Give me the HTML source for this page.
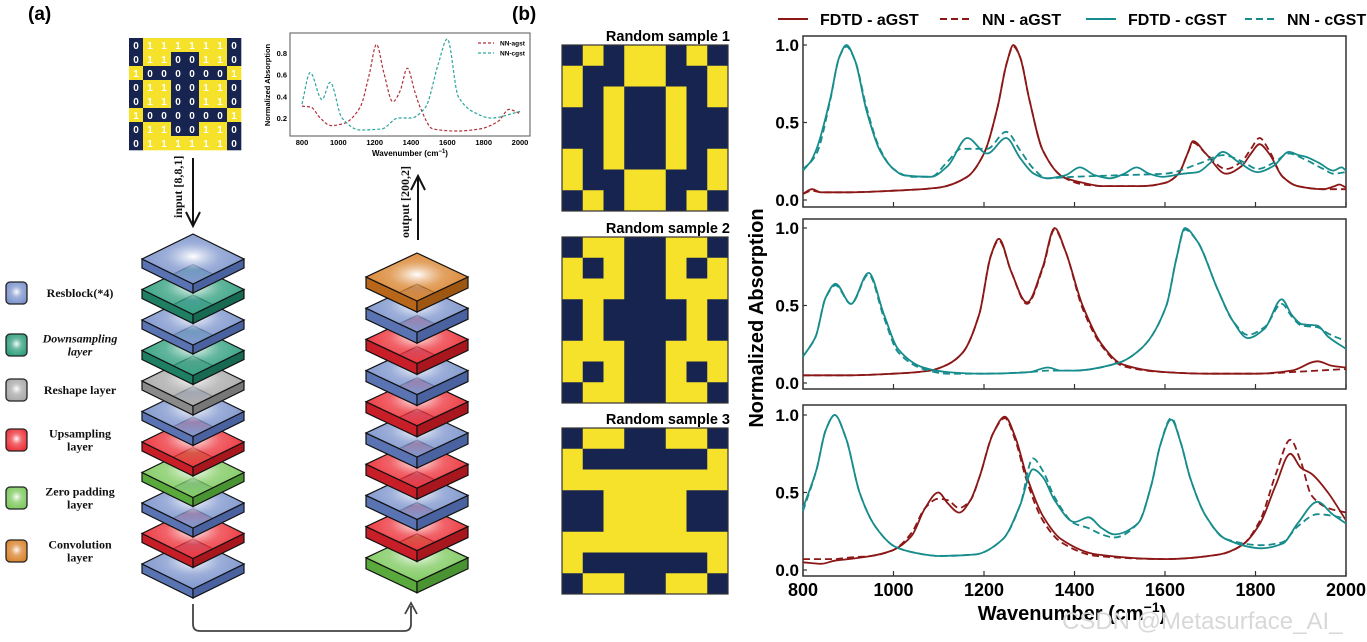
<!DOCTYPE html>
<html><head><meta charset="utf-8">
<style>
html,body{margin:0;padding:0;background:#fff;}
svg{display:block;font-family:"Liberation Sans",Arial,sans-serif;}
.serif{font-family:"Liberation Serif","Times New Roman",serif;font-weight:bold;font-size:12px;fill:#111;}
</style></head>
<body>
<svg id="fig" width="1367" height="642" viewBox="0 0 1367 642" xmlns="http://www.w3.org/2000/svg">
<defs id="defs"></defs>
<text x="28" y="20" font-size="19" font-weight="bold">(a)</text>
<text x="512" y="20" font-size="19" font-weight="bold">(b)</text>
<g id="matrix"></g>
<g id="arrows">
  <line x1="193" y1="158" x2="193" y2="224" stroke="#111" stroke-width="2"/>
  <polyline points="186,212 193,226 200,212" fill="none" stroke="#111" stroke-width="2"/>
  <line x1="418" y1="240" x2="418" y2="178" stroke="#111" stroke-width="2"/>
  <polyline points="411,190 418,176 425,190" fill="none" stroke="#111" stroke-width="2"/>
  <path d="M193,604 L193,624 Q193,631 200,631 L404,631 Q411,631 411,624 L411,606" fill="none" stroke="#444" stroke-width="1.8"/>
  <polyline points="405,614 411,603 417,614" fill="none" stroke="#444" stroke-width="1.8"/>
</g>
<text transform="translate(182,218) rotate(-90)" class="serif" font-size="10">input [8,8,1]</text>
<text transform="translate(409,238) rotate(-90)" class="serif" font-size="10">output [200,2]</text>
<g id="legendA"></g>
<g id="stacks"></g>
<g id="inset"></g>
<g id="grids"></g>
<g id="main"></g>
<text x="1062" y="629" font-size="24" fill="#d8d8d8">CSDN @Metasurface_AI_</text>
</svg>
<script>
// ---------- DATA ----------
const inputMatrix = ["01111110","01100110","10000001","01100110","01100110","10000001","01100110","01111110"];
const sample1 = ["01011010","10011001","10100101","00100100","00100100","10100101","10011001","01011010"];
const sample2 = ["01100110","10100101","11100111","01000010","01000010","11100111","10100101","01100110"];
const sample3 = ["01100110","10000001","11111111","00111100","00111100","11111111","10000001","01100110"];
const leftStack = ["blue","teal","blue","teal","gray","blue","red","lgreen","blue","red","blue"];
const rightStack = ["orange","blue","red","blue","red","blue","red","blue","red","lgreen"];
const xTicks = [800,1000,1200,1400,1600,1800,2000];
const yTicks = [0.0,0.5,1.0];
// inset
const in_a_x = [800,850,900,960,1030,1120,1170,1210,1250,1300,1340,1380,1420,1450,1520,1650,1780,1880,1940,2000];
const in_a_y = [0.31,0.30,0.20,0.13,0.15,0.30,0.60,0.88,0.62,0.35,0.45,0.66,0.45,0.30,0.10,0.08,0.10,0.17,0.28,0.24];
const in_c_x = [800,845,910,955,1020,1120,1240,1330,1400,1480,1550,1600,1660,1750,1840,2000];
const in_c_y = [0.33,0.62,0.37,0.53,0.20,0.09,0.10,0.20,0.20,0.30,0.70,0.93,0.40,0.25,0.20,0.26];
// panel 1
const p1_cF_x = [800,815,830,860,880,896,915,940,970,1000,1022,1083,1120,1163,1207,1249,1280,1310,1339,1380,1412,1445,1479,1510,1537,1565,1594,1640,1673,1700,1728,1760,1805,1840,1874,1895,1910,1940,1972,1990,2000];
const p1_cF_y = [0.20,0.24,0.33,0.65,0.92,1.0,0.9,0.58,0.32,0.2,0.16,0.15,0.22,0.40,0.30,0.40,0.27,0.17,0.14,0.16,0.21,0.16,0.14,0.17,0.21,0.17,0.15,0.17,0.18,0.24,0.31,0.25,0.18,0.22,0.31,0.29,0.28,0.24,0.19,0.21,0.19];
const p1_cN_x = [800,830,860,880,896,915,940,970,1000,1040,1083,1120,1150,1207,1249,1280,1310,1339,1400,1500,1600,1680,1728,1770,1805,1840,1874,1910,1950,1972,2000];
const p1_cN_y = [0.19,0.3,0.64,0.92,0.99,0.9,0.6,0.33,0.2,0.15,0.15,0.25,0.33,0.33,0.44,0.32,0.2,0.14,0.15,0.16,0.17,0.24,0.29,0.25,0.2,0.24,0.3,0.26,0.2,0.17,0.18];
const p1_aF_x = [800,820,840,860,900,1000,1100,1163,1200,1230,1250,1265,1280,1300,1330,1374,1420,1462,1550,1600,1630,1650,1662,1690,1735,1770,1790,1809,1830,1860,1893,1950,1975,1985,2000];
const p1_aF_y = [0.04,0.07,0.05,0.05,0.05,0.06,0.08,0.15,0.3,0.6,0.88,1.0,0.92,0.65,0.32,0.15,0.11,0.09,0.09,0.11,0.17,0.3,0.38,0.3,0.17,0.22,0.3,0.36,0.3,0.15,0.09,0.07,0.09,0.1,0.08];
const p1_aN_y = [0.04,0.06,0.05,0.05,0.05,0.06,0.08,0.15,0.3,0.6,0.88,0.99,0.92,0.65,0.32,0.15,0.1,0.09,0.09,0.11,0.17,0.3,0.37,0.3,0.2,0.25,0.33,0.4,0.32,0.15,0.09,0.07,0.07,0.07,0.07];
// panel 2
const p2_cF_x = [800,828,850,872,906,945,978,1010,1066,1120,1198,1300,1341,1370,1400,1497,1550,1603,1625,1644,1670,1717,1750,1783,1820,1858,1880,1902,1937,1960,2000];
const p2_cF_y = [0.17,0.3,0.55,0.64,0.51,0.71,0.45,0.22,0.1,0.07,0.06,0.07,0.1,0.08,0.08,0.13,0.23,0.5,0.8,1.0,0.92,0.6,0.4,0.29,0.35,0.54,0.44,0.38,0.37,0.3,0.22];
const p2_cN_y = [0.17,0.3,0.55,0.63,0.51,0.70,0.43,0.2,0.09,0.06,0.06,0.07,0.08,0.08,0.08,0.13,0.23,0.5,0.8,0.99,0.92,0.6,0.4,0.31,0.36,0.51,0.43,0.37,0.36,0.32,0.27];
const p2_aF_x = [800,900,1000,1080,1120,1154,1190,1215,1233,1260,1295,1330,1356,1380,1418,1460,1506,1600,1700,1800,1880,1937,1970,2000];
const p2_aF_y = [0.05,0.05,0.06,0.08,0.12,0.2,0.45,0.82,0.93,0.72,0.52,0.75,1.0,0.85,0.5,0.25,0.12,0.07,0.06,0.06,0.08,0.14,0.11,0.1];
const p2_aN_y = [0.05,0.05,0.06,0.08,0.12,0.2,0.45,0.82,0.92,0.72,0.51,0.74,0.99,0.85,0.48,0.24,0.11,0.07,0.06,0.06,0.07,0.08,0.085,0.09];
// panel 3
const p3_cF_x = [800,830,850,870,895,925,960,1004,1050,1101,1180,1242,1280,1308,1330,1356,1400,1431,1460,1488,1540,1570,1589,1614,1635,1655,1690,1734,1814,1860,1893,1937,1970,2000];
const p3_cF_y = [0.4,0.65,0.9,1.0,0.85,0.5,0.28,0.15,0.11,0.09,0.1,0.2,0.42,0.65,0.6,0.45,0.31,0.34,0.27,0.23,0.3,0.55,0.8,0.97,0.82,0.6,0.35,0.2,0.14,0.17,0.3,0.44,0.36,0.3];
const p3_cN_y = [0.38,0.65,0.9,1.0,0.85,0.5,0.28,0.15,0.11,0.09,0.1,0.2,0.42,0.72,0.64,0.47,0.3,0.27,0.23,0.21,0.3,0.55,0.8,0.98,0.82,0.6,0.35,0.2,0.16,0.18,0.28,0.36,0.35,0.33];
const p3_aF_x = [800,840,870,900,950,1000,1040,1070,1099,1120,1145,1170,1190,1220,1246,1270,1295,1330,1370,1450,1600,1720,1770,1810,1845,1877,1900,1924,1960,2000];
const p3_aF_y = [0.05,0.04,0.06,0.07,0.09,0.13,0.22,0.4,0.5,0.43,0.37,0.45,0.6,0.88,0.99,0.85,0.6,0.35,0.2,0.1,0.07,0.1,0.16,0.3,0.55,0.75,0.66,0.62,0.5,0.32];
const p3_aN_y = [0.07,0.07,0.07,0.08,0.09,0.13,0.24,0.4,0.46,0.45,0.40,0.45,0.6,0.88,0.98,0.83,0.57,0.32,0.18,0.09,0.07,0.1,0.16,0.32,0.62,0.84,0.7,0.48,0.4,0.37];

// ---------- HELPERS ----------
const NS = "http://www.w3.org/2000/svg";
function mk(tag, attrs, parent){const e=document.createElementNS(NS,tag);for(const k in attrs)e.setAttribute(k,attrs[k]);if(parent)parent.appendChild(e);return e;}
function monoPath(px, py){
  const n=px.length; if(n<2) return "";
  const d=[],m=new Array(n);
  for(let i=0;i<n-1;i++) d.push((py[i+1]-py[i])/(px[i+1]-px[i]));
  m[0]=d[0]; m[n-1]=d[n-2];
  for(let i=1;i<n-1;i++){ if(d[i-1]*d[i]<=0) m[i]=0; else { const w1=2*(px[i+1]-px[i])+(px[i]-px[i-1]), w2=(px[i+1]-px[i])+2*(px[i]-px[i-1]); m[i]=(w1+w2)/(w1/d[i-1]+w2/d[i]); } }
  let s="M"+px[0].toFixed(1)+","+py[0].toFixed(1);
  for(let i=0;i<n-1;i++){ const h=px[i+1]-px[i];
    s+=" C"+(px[i]+h/3).toFixed(1)+","+(py[i]+m[i]*h/3).toFixed(1)+" "+(px[i+1]-h/3).toFixed(1)+","+(py[i+1]-m[i+1]*h/3).toFixed(1)+" "+px[i+1].toFixed(1)+","+py[i+1].toFixed(1); }
  return s;
}
const defs=document.getElementById('defs');
const NAVY="#16244f", YEL="#f7e22b";

// ---------- INPUT MATRIX ----------
(function(){
  const g=document.getElementById('matrix'); const x0=129,y0=38,c=14;
  inputMatrix.forEach((row,r)=>{ for(let k=0;k<8;k++){ const v=row[k];
    const rc=mk('rect',{x:x0+k*c,y:y0+r*c,width:c+0.3,height:c+0.3,fill:v==="1"?YEL:NAVY},g);
    
    
    const t=mk('text',{x:x0+k*c+c/2,y:y0+r*c+c/2+4,'text-anchor':'middle','font-size':10,'font-weight':'bold',fill:'#fff'},g);
    t.textContent=v;
    
    
  }});
})();

// ---------- GRADIENTS ----------
const colors={blue:["#7b93cc","#5a73b3","#4a62a0"],teal:["#2e9e7c","#1f7f62","#176a51"],gray:["#a8a8a8","#8a8a8a","#777"],red:["#ec2f37","#c81e27","#a8161e"],lgreen:["#7cc95c","#5aa93c","#4a9332"],orange:["#d9822b","#b8661a","#9e5613"]};
for(const k in colors){
  const rg=mk('radialGradient',{id:'rg-'+k,cx:'50%',cy:'45%',r:'60%'},defs);
  mk('stop',{offset:'0%','stop-color':'#ffffff'},rg);
  mk('stop',{offset:'45%','stop-color':colors[k][0],'stop-opacity':'0.75'},rg);
  mk('stop',{offset:'100%','stop-color':colors[k][0]},rg);
}
function layer(g,cx,top,col,hw,hh,th){
  const c=colors[col];
  const grp=mk('g',{},g);
  
  
  mk('polygon',{points:`${cx-hw},${top+hh} ${cx},${top+2*hh} ${cx},${top+2*hh+th} ${cx-hw},${top+hh+th}`,fill:c[1],stroke:'#111','stroke-width':1.2},grp);
  mk('polygon',{points:`${cx+hw},${top+hh} ${cx},${top+2*hh} ${cx},${top+2*hh+th} ${cx+hw},${top+hh+th}`,fill:c[2],stroke:'#111','stroke-width':1.2},grp);
  mk('polygon',{points:`${cx},${top} ${cx+hw},${top+hh} ${cx},${top+2*hh} ${cx-hw},${top+hh}`,fill:`url(#rg-${col})`,stroke:'#111','stroke-width':1.2},grp);
}
(function(){
  const g=document.getElementById('stacks');
  for(let i=leftStack.length-1;i>=0;i--) layer(g,193,234+i*30.5,leftStack[i],51,25,9);
  for(let i=rightStack.length-1;i>=0;i--) layer(g,417,253+i*31.2,rightStack[i],51,24,11);
})();

// ---------- LAYER LEGEND ----------
(function(){
  const g=document.getElementById('legendA');
  const list=[["blue",293,["Resblock(*4)"],false],["teal",345,["Downsampling","layer"],true],["gray",390,["Reshape layer"],false],["red",440,["Upsampling","layer"],false],["lgreen",498,["Zero padding","layer"],false],["orange",551,["Convolution","layer"],false]];
  list.forEach(it=>{
    const r=mk('rect',{x:6,y:it[1]-11,width:21,height:22,rx:4,fill:`url(#rg-${it[0]})`,stroke:'#222','stroke-width':1.3},g);
    
    
    const n=it[2].length;
    it[2].forEach((s,j)=>{
      const t=mk('text',{x:80,y:it[1]+4+(j-(n-1)/2)*13,'text-anchor':'middle',class:'serif'},g);
      if(it[3]) t.setAttribute('font-style','italic');
      t.textContent=s;
      
      
    });
  });
})();

// ---------- INSET CHART ----------
(function(){
  const g=document.getElementById('inset');
  const X=w=>302+(w-800)*(218/1200), Y=v=>139.7-v*108.3;
  const box=mk('rect',{x:290,y:33,width:240,height:103,fill:'none',stroke:'#555','stroke-width':1},g);
   
  [800,1000,1200,1400,1600,1800,2000].forEach(w=>{const t=mk('text',{x:X(w),y:145,'text-anchor':'middle','font-size':7.5,'font-weight':'bold'},g);t.textContent=w;
     });
  [0.2,0.4,0.6,0.8].forEach(v=>{const t=mk('text',{x:287,y:Y(v)+3,'text-anchor':'end','font-size':7.5,'font-weight':'bold'},g);t.textContent=v.toFixed(1);
     });
  const xt=mk('text',{x:410,y:156,'text-anchor':'middle','font-size':8,'font-weight':'bold'},g);
  xt.innerHTML='Wavenumber (cm<tspan font-size="6" dy="-3">−1</tspan><tspan dy="3">)</tspan>';
   
  const yt=mk('text',{transform:'translate(270,85) rotate(-90)','text-anchor':'middle','font-size':7.5,'font-weight':'bold'},g);
  yt.textContent='Normalized Absorption';
   
  const pa=mk('path',{d:monoPath(in_a_x.map(X),in_a_y.map(Y)),fill:'none',stroke:'#b0303a','stroke-width':1.2,'stroke-dasharray':'3,2'},g);
   
  const pc=mk('path',{d:monoPath(in_c_x.map(X),in_c_y.map(Y)),fill:'none',stroke:'#2aa59a','stroke-width':1.2,'stroke-dasharray':'3,2'},g);
   
  [["NN-agst","#b0303a",43],["NN-cgst","#2aa59a",53]].forEach(l=>{
    mk('line',{x1:478,y1:l[2],x2:494,y2:l[2],stroke:l[1],'stroke-width':1.2,'stroke-dasharray':'3,2'},g);
    const t=mk('text',{x:500,y:l[2]+2.5,'font-size':6.5,'font-weight':'bold'},g);t.textContent=l[0];
     
  });
})();

// ---------- RANDOM SAMPLE GRIDS ----------
(function(){
  const g=document.getElementById('grids');
  const defsG=[[sample1,45,"Random sample 1"],[sample2,237,"Random sample 2"],[sample3,428,"Random sample 3"]];
  defsG.forEach(s=>{
    const x0=562,y0=s[1],c=20.75;
    const t=mk('text',{x:730,y:y0-4,'text-anchor':'end','font-size':14.5,'font-weight':'bold'},g);
    t.textContent=s[2];
     
    s[0].forEach((row,r)=>{for(let k=0;k<8;k++){
      const rc=mk('rect',{x:x0+k*c,y:y0+r*c,width:c+0.3,height:c+0.3,fill:row[k]==="1"?YEL:NAVY},g);
       
    }});
    mk('rect',{x:x0,y:y0,width:8*c,height:8*c,fill:'none',stroke:'#333','stroke-width':1.2},g);
  });
})();

// ---------- MAIN CHART ----------
(function(){
  const g=document.getElementById('main');
  const L=803,R=1346;
  const X=w=>L+(w-800)*(R-L)/1200;
  const panels=[
    {base:200,top:36,bot:207,s:[[p1_aF_x,p1_aF_y,'a',0],[p1_aF_x,p1_aN_y,'a',1],[p1_cF_x,p1_cF_y,'c',0],[p1_cN_x,p1_cN_y,'c',1]]},
    {base:383,top:219,bot:389,s:[[p2_aF_x,p2_aF_y,'a',0],[p2_aF_x,p2_aN_y,'a',1],[p2_cF_x,p2_cF_y,'c',0],[p2_cF_x,p2_cN_y,'c',1]]},
    {base:570,top:405,bot:576,s:[[p3_aF_x,p3_aF_y,'a',0],[p3_aF_x,p3_aN_y,'a',1],[p3_cF_x,p3_cF_y,'c',0],[p3_cF_x,p3_cN_y,'c',1]]}
  ];
  const RED="#8c1717", TEAL="#178c8c";
  panels.forEach((p,pi)=>{
    const Y=v=>p.base-v*155;
    const fr=mk('rect',{x:L,y:p.top,width:R-L,height:p.bot-p.top,fill:'none',stroke:'#333','stroke-width':1.5},g);
     
    xTicks.forEach(w=>{mk('line',{x1:X(w),y1:p.bot,x2:X(w),y2:p.bot-5,stroke:'#333','stroke-width':1.2},g);});
    yTicks.forEach(v=>{
      mk('line',{x1:L,y1:Y(v),x2:L+4,y2:Y(v),stroke:'#333','stroke-width':1.2},g);
      const t=mk('text',{x:L-4,y:Y(v)+6,'text-anchor':'end','font-size':17,'font-weight':'bold'},g);
      t.textContent=v.toFixed(1);
       
    });
    p.s.forEach(s=>{
      const path=mk('path',{d:monoPath(s[0].map(X),s[1].map(Y)),fill:'none',stroke:s[2]==='a'?RED:TEAL,'stroke-width':1.8},g);
      if(s[3]) path.setAttribute('stroke-dasharray','7,4');
      
      
    });
  });
  xTicks.forEach(w=>{const t=mk('text',{x:X(w),y:596,'text-anchor':'middle','font-size':18,'font-weight':'bold'},g);t.textContent=w;
     });
  const xt=mk('text',{x:1072,y:620,'text-anchor':'middle','font-size':20,'font-weight':'bold'},g);
  xt.innerHTML='Wavenumber (cm<tspan font-size="14" dy="-8">−1</tspan><tspan dy="8">)</tspan>';
   
  const yt=mk('text',{transform:'translate(763,318) rotate(-90)','text-anchor':'middle','font-size':20,'font-weight':'bold'},g);
  yt.textContent='Normalized Absorption';
   
  const leg=[["FDTD - aGST",RED,0,778],["NN - aGST",RED,1,940],["FDTD - cGST",TEAL,0,1086],["NN - cGST",TEAL,1,1245]];
  leg.forEach(l=>{
    const ln=mk('line',{x1:l[3],y1:19,x2:l[3]+30,y2:19,stroke:l[1],'stroke-width':2},g);
    if(l[2]) ln.setAttribute('stroke-dasharray','7,4');
    const t=mk('text',{x:l[3]+42,y:25,'font-size':16,'font-weight':'bold'},g);
    t.textContent=l[0];
     
  });
})();
</script>
</body></html>
